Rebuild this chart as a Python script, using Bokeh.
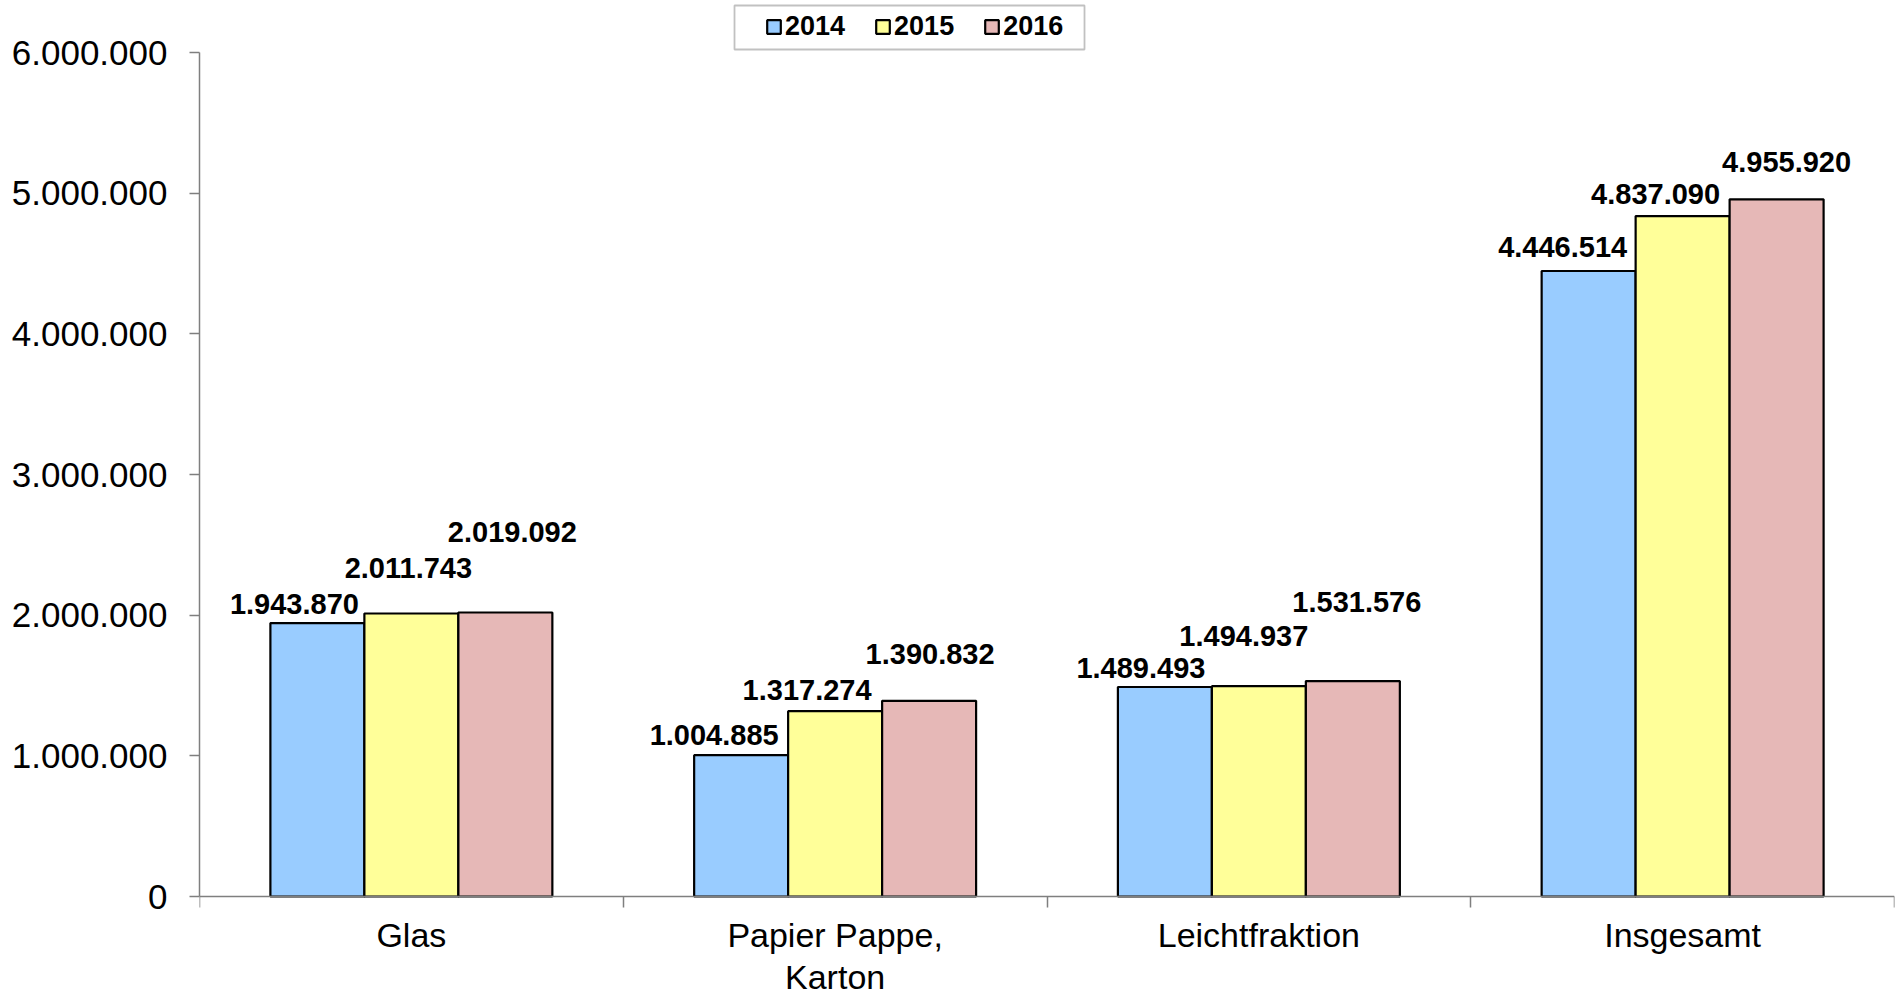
from bokeh.plotting import figure
from bokeh.models import (ColumnDataSource, FixedTicker, Legend, LegendItem,
                          BoxAnnotation, Range1d)
from bokeh.transform import dodge
from bokeh.core.properties import value
from bokeh.embed import file_html
from bokeh.resources import INLINE

# ---------------- data ----------------
categories = ["Glas", "Papier Pappe,\nKarton", "Leichtfraktion", "Insgesamt"]
years = ["2014", "2015", "2016"]
v2014 = [1943870, 1004885, 1489493, 4446514]
v2015 = [2011743, 1317274, 1494937, 4837090]
v2016 = [2019092, 1390832, 1531576, 4955920]
y_ticks = [0, 1000000, 2000000, 3000000, 4000000, 5000000, 6000000]

# ---------------- layout / style ----------------
colors = {"2014": "#99CCFF", "2015": "#FFFF99", "2016": "#E6B8B7"}
# manual placement of data labels (pixels), as in the original chart
label_dx = {"2014": [-23, -27, -24, -26], "2015": [-3, -28, -15, -27], "2016": [7, 1, 4, 10]}
label_rise = {"2014": [19, 20, 19, 24], "2015": [46, 21, 50, 22], "2016": [80, 47, 79, 37]}

FONT = "Liberation Sans"
W, H = 1897, 996
FRAME_LEFT, FRAME_RIGHT = 199, 1894     # canvas px
Y0_PX, YTOP_PX = 896, 52                 # canvas px of 0 and 6.000.000
px_per = (Y0_PX - YTOP_PX) / y_ticks[-1]
y_end = Y0_PX / px_per
y_start = -(H - Y0_PX) / px_per

bar_w = 0.2218
series = {"2014": v2014, "2015": v2015, "2016": v2016}

def fmt(v):
    return f"{v:,}".replace(",", ".")

xs = [i + 0.5 for i in range(len(categories))]

p = figure(width=W, height=H, output_backend="svg", toolbar_location=None,
           x_range=Range1d(0, len(categories)), y_range=Range1d(y_start, y_end),
           min_border_left=FRAME_LEFT, min_border_right=W - FRAME_RIGHT,
           min_border_bottom=0, min_border_top=0)
p.outline_line_color = None
p.xgrid.visible = False
p.ygrid.visible = False
p.background_fill_color = "white"
p.border_fill_color = "white"

items = []
for j, yr in enumerate(years):
    vals = series[yr]
    src = ColumnDataSource(dict(
        x=xs, top=vals,
        label=[fmt(v) for v in vals],
        dx=label_dx[yr],
        dy=[-r for r in label_rise[yr]],
    ))
    off = (j - 1) * bar_w
    r = p.vbar(x=dodge("x", off), top="top", bottom=0, width=bar_w, source=src,
               fill_color=colors[yr], line_color="black", line_width=2.2)
    p.text(x=dodge("x", off), y="top", text="label", source=src,
           x_offset="dx", y_offset="dy",
           text_align="center", text_baseline="alphabetic",
           text_font=value(FONT), text_font_style="bold",
           text_font_size="29px", text_color="black")
    items.append(LegendItem(label=yr, renderers=[r]))

# ---- y axis ----
yax = p.yaxis[0]
yax.ticker = FixedTicker(ticks=y_ticks, minor_ticks=[])
yax.major_label_overrides = {t: fmt(t) for t in y_ticks}
yax.bounds = (0, y_ticks[-1])
yax.axis_line_color = "#7f7f7f"
yax.axis_line_width = 1.5
yax.major_tick_line_color = "#7f7f7f"
yax.major_tick_line_width = 1.5
yax.major_tick_out = 10
yax.major_tick_in = 0
yax.minor_tick_out = 0
yax.minor_tick_in = 0
yax.major_label_standoff = 22
yax.major_label_text_font = FONT
yax.major_label_text_font_size = "35px"
yax.major_label_text_color = "black"

# ---- x axis (placed at y = 0) ----
xax = p.xaxis[0]
xax.fixed_location = 0
xax.ticker = FixedTicker(ticks=xs, minor_ticks=list(range(len(categories) + 1)))
xax.major_label_overrides = {x: c for x, c in zip(xs, categories)}
xax.axis_line_color = "#7f7f7f"
xax.axis_line_width = 1.5
xax.major_tick_out = 0
xax.major_tick_in = 0
xax.minor_tick_out = 11
xax.minor_tick_in = 0
xax.minor_tick_line_color = "#7f7f7f"
xax.minor_tick_line_width = 1.5
xax.major_label_standoff = 8
xax.major_label_text_font = FONT
xax.major_label_text_font_size = "34px"
xax.major_label_text_line_height = 1.12
xax.major_label_text_color = "black"
xax.major_label_orientation = "horizontal"

# ---- legend ----
legend = Legend(items=items, orientation="horizontal", location=(566, H - 42),
                padding=0, margin=0, spacing=29, label_standoff=3,
                glyph_width=17, glyph_height=17, label_height=17,
                label_text_font=FONT, label_text_font_style="bold",
                label_text_font_size="27px", label_text_color="black",
                border_line_color=None, background_fill_alpha=0)
p.add_layout(legend)
p.add_layout(BoxAnnotation(left=734, right=1084, top=5, bottom=49,
                           left_units="canvas", right_units="canvas",
                           top_units="canvas", bottom_units="canvas",
                           fill_alpha=0, line_color="#333333", line_width=1.8))

open("out.html", "w").write(file_html(p, INLINE))
